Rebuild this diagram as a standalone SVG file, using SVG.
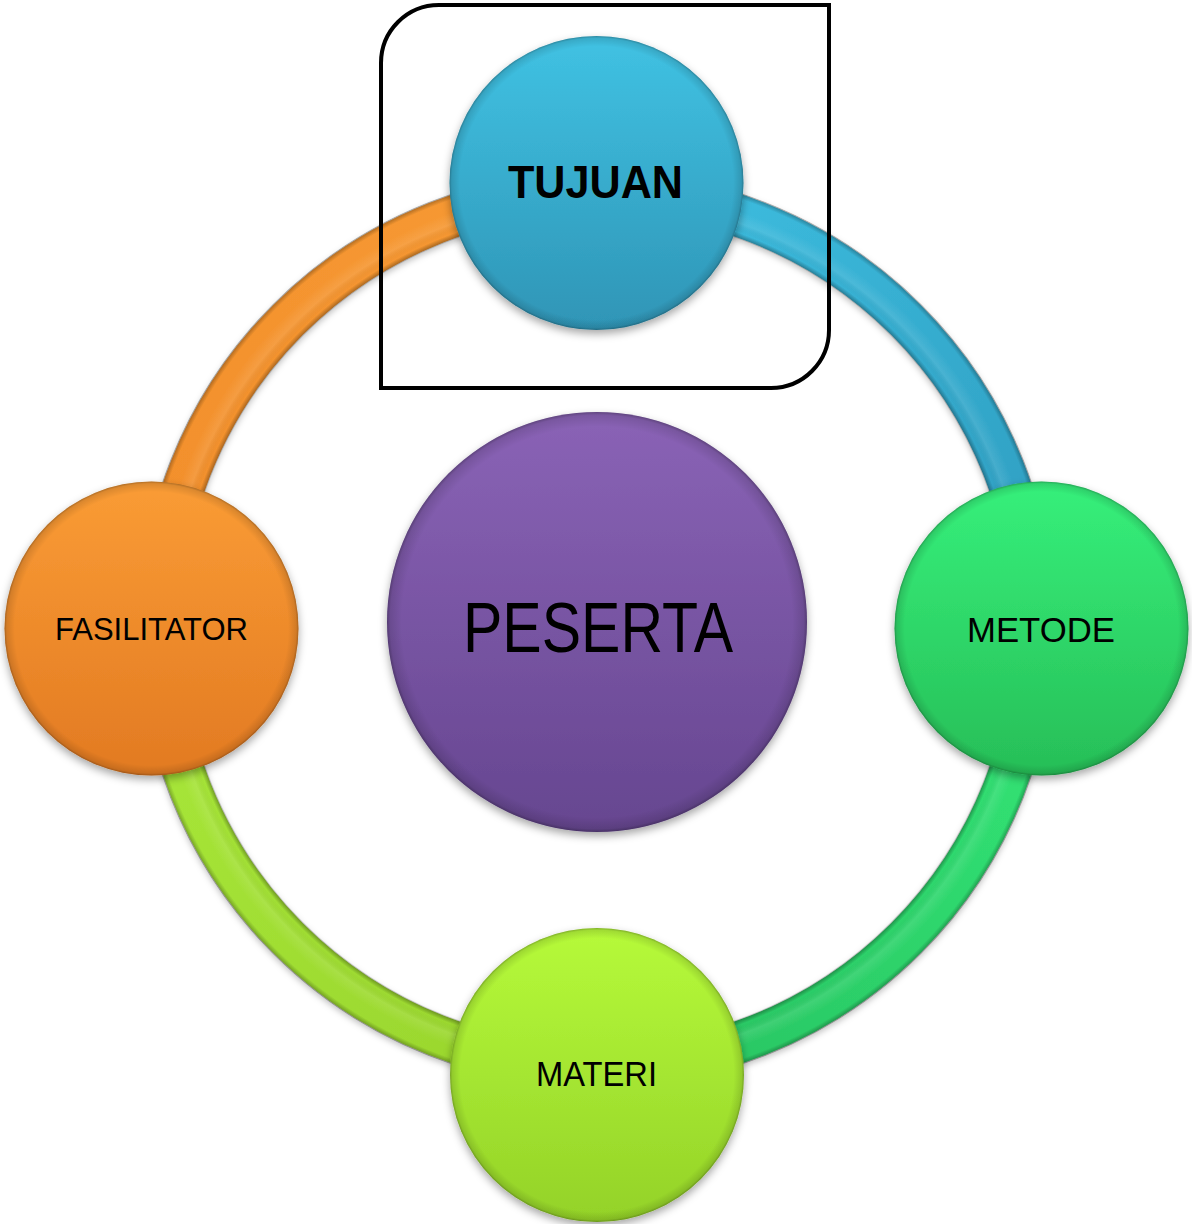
<svg xmlns="http://www.w3.org/2000/svg" width="1192" height="1224" viewBox="0 0 1192 1224">
  <style>
    .lbl { font-family: "Liberation Sans", Arial, sans-serif; fill: #000; text-anchor: middle; }
    .ring { fill: none; stroke-width: 42; }
    .node { filter: url(#shadow); }
    .rim { fill: url(#rimShade); }
  </style>
  <defs>
    <filter id="shadow" x="-20%" y="-20%" width="140%" height="150%">
      <feDropShadow dx="0" dy="4" stdDeviation="4" flood-color="#000" flood-opacity="0.35"/>
    </filter>
    <filter id="ringShadow" x="-10%" y="-10%" width="120%" height="120%">
      <feDropShadow dx="0" dy="3" stdDeviation="3" flood-color="#000" flood-opacity="0.25"/>
    </filter>
    <linearGradient id="gOrangeRing" gradientUnits="userSpaceOnUse" x1="160" y1="629" x2="597" y2="192">
      <stop offset="0" stop-color="#F28E2B"/>
      <stop offset="1" stop-color="#F79A33"/>
    </linearGradient>
    <linearGradient id="gBlueRing" gradientUnits="userSpaceOnUse" x1="597" y1="192" x2="1034" y2="629">
      <stop offset="0" stop-color="#3EC0E2"/>
      <stop offset="1" stop-color="#2E9CBF"/>
    </linearGradient>
    <linearGradient id="gGreenRing" gradientUnits="userSpaceOnUse" x1="1034" y1="629" x2="597" y2="1066">
      <stop offset="0" stop-color="#32E676"/>
      <stop offset="1" stop-color="#29C261"/>
    </linearGradient>
    <linearGradient id="gLimeRing" gradientUnits="userSpaceOnUse" x1="597" y1="1066" x2="160" y2="629">
      <stop offset="0" stop-color="#98D42C"/>
      <stop offset="1" stop-color="#A9E83A"/>
    </linearGradient>
    <radialGradient id="ringBevel" gradientUnits="userSpaceOnUse" cx="597" cy="629" r="460">
      <stop offset="0" stop-color="#000" stop-opacity="0"/>
      <stop offset="0.9" stop-color="#000" stop-opacity="0"/>
      <stop offset="0.905" stop-color="#000" stop-opacity="0.28"/>
      <stop offset="0.915" stop-color="#000" stop-opacity="0"/>
      <stop offset="0.935" stop-color="#fff" stop-opacity="0.1"/>
      <stop offset="0.96" stop-color="#fff" stop-opacity="0"/>
      <stop offset="0.985" stop-color="#000" stop-opacity="0"/>
      <stop offset="0.997" stop-color="#000" stop-opacity="0.3"/>
      <stop offset="1" stop-color="#000" stop-opacity="0"/>
    </radialGradient>
    <radialGradient id="rimShade" cx="0.5" cy="0.5" r="0.5">
      <stop offset="0" stop-color="#000" stop-opacity="0"/>
      <stop offset="0.93" stop-color="#000" stop-opacity="0"/>
      <stop offset="0.985" stop-color="#000" stop-opacity="0.12"/>
      <stop offset="1" stop-color="#000" stop-opacity="0.3"/>
    </radialGradient>
    <linearGradient id="gTujuan" x1="0" y1="0" x2="0" y2="1">
      <stop offset="0" stop-color="#40C2E3"/>
      <stop offset="1" stop-color="#2F95B6"/>
    </linearGradient>
    <linearGradient id="gFasil" x1="0" y1="0" x2="0" y2="1">
      <stop offset="0" stop-color="#FA9C35"/>
      <stop offset="1" stop-color="#E27A22"/>
    </linearGradient>
    <linearGradient id="gMetode" x1="0" y1="0" x2="0" y2="1">
      <stop offset="0" stop-color="#36F07B"/>
      <stop offset="1" stop-color="#27BE57"/>
    </linearGradient>
    <linearGradient id="gMateri" x1="0" y1="0" x2="0" y2="1">
      <stop offset="0" stop-color="#B6FA3A"/>
      <stop offset="1" stop-color="#94D228"/>
    </linearGradient>
    <linearGradient id="gPeserta" x1="0" y1="0" x2="0" y2="1">
      <stop offset="0" stop-color="#8A63B6"/>
      <stop offset="1" stop-color="#664690"/>
    </linearGradient>
  </defs>

  <rect x="0" y="0" width="1192" height="1224" fill="#fff"/>

  <g id="connectors" filter="url(#ringShadow)">
    <path class="ring" stroke="url(#gOrangeRing)" d="M 160 629 A 437 437 0 0 1 597 192"/>
    <path class="ring" stroke="url(#gBlueRing)" d="M 597 192 A 437 437 0 0 1 1034 629"/>
    <path class="ring" stroke="url(#gGreenRing)" d="M 1034 629 A 437 437 0 0 1 597 1066"/>
    <path class="ring" stroke="url(#gLimeRing)" d="M 597 1066 A 437 437 0 0 1 160 629"/>
    <circle cx="597" cy="629" r="437" fill="none" stroke="url(#ringBevel)" stroke-width="44"/>
  </g>

  <g id="node-peserta">
    <circle class="node" cx="597" cy="622" r="210" fill="url(#gPeserta)"/>
    <circle class="rim" cx="597" cy="622" r="210"/>
    <text class="lbl" x="598" y="652" font-size="70" textLength="270" lengthAdjust="spacingAndGlyphs">PESERTA</text>
  </g>

  <g id="node-tujuan">
    <circle class="node" cx="596.5" cy="183" r="147" fill="url(#gTujuan)"/>
    <circle class="rim" cx="596.5" cy="183" r="147"/>
    <text class="lbl" x="595.5" y="198" font-size="46" font-weight="bold" textLength="175" lengthAdjust="spacingAndGlyphs">TUJUAN</text>
  </g>

  <g id="node-fasilitator">
    <circle class="node" cx="151.5" cy="628.5" r="147" fill="url(#gFasil)"/>
    <circle class="rim" cx="151.5" cy="628.5" r="147"/>
    <text class="lbl" x="151.5" y="640" font-size="32" textLength="193" lengthAdjust="spacingAndGlyphs">FASILITATOR</text>
  </g>

  <g id="node-metode">
    <circle class="node" cx="1041.5" cy="628.5" r="147" fill="url(#gMetode)"/>
    <circle class="rim" cx="1041.5" cy="628.5" r="147"/>
    <text class="lbl" x="1041" y="642" font-size="35" textLength="148" lengthAdjust="spacingAndGlyphs">METODE</text>
  </g>

  <g id="node-materi">
    <circle class="node" cx="597" cy="1075" r="147" fill="url(#gMateri)"/>
    <circle class="rim" cx="597" cy="1075" r="147"/>
    <text class="lbl" x="596.5" y="1086" font-size="35" textLength="121" lengthAdjust="spacingAndGlyphs">MATERI</text>
  </g>

  <g id="highlight-box">
    <path d="M 381 63 A 58 58 0 0 1 439 5 L 829 5 L 829 330 A 58 58 0 0 1 771 388 L 381 388 Z" fill="none" stroke="#000" stroke-width="4"/>
  </g>
</svg>
